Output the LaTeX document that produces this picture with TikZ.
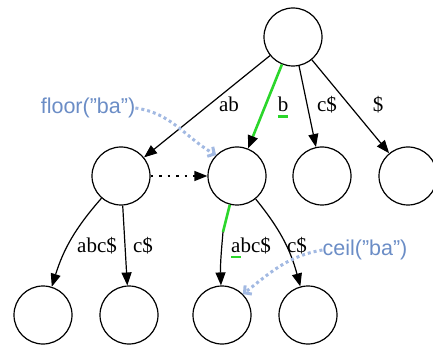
\documentclass[tikz,border=0pt]{standalone}
\usepackage{fontspec}
\setmainfont{Liberation Serif}
\newfontfamily\notefont{Liberation Sans}
\usetikzlibrary{arrows.meta}
\definecolor{tgreen}{HTML}{2BD62B}
\definecolor{tblue}{HTML}{6B8DC6}
\definecolor{tbluesoft}{HTML}{A2B9E2}
\newcommand{\greenul}[1]{\setbox0\hbox{#1}\rlap{\textcolor{tgreen}{\rule[-6pt]{\wd0}{2.5pt}}}#1}
\tikzset{
  >={Triangle[length=13pt,width=10pt]},
  vertex/.style={circle, draw, line width=1.2pt, minimum size=58pt, inner sep=0pt},
  edge/.style={->, line width=1.2pt},
  hit/.style={line width=2.6pt, draw=tgreen},
  lab/.style={font=\fontsize{21}{24}\selectfont, anchor=base, inner sep=0pt},
  note/.style={font=\notefont\fontsize{21.5}{24}\selectfont, text=tblue, inner sep=0pt},
  pointer/.style={-{Straight Barb[length=5pt,width=11pt]}, line width=3pt,
    draw=tbluesoft, dash pattern=on 3pt off 3pt}
}
\begin{document}
\begin{tikzpicture}[x=1pt,y=-1pt]
  \useasboundingbox (0,0) rectangle (433,347);
  % trie nodes
  \node[vertex] (root) at (293,37) {};
  \node[vertex] (na) at (121,176) {};
  \node[vertex] (nb) at (237,176) {};
  \node[vertex] (nc) at (322,176) {};
  \node[vertex] (nd) at (408,176) {};
  \node[vertex] (la) at (43,315) {};
  \node[vertex] (lb) at (129,315) {};
  \node[vertex] (lc) at (222,315) {};
  \node[vertex] (ld) at (308,315) {};
  % first level
  \draw[edge] (root) -- (na);
  \draw[edge,hit,-{Triangle[length=13pt,width=10pt,black]}] (root) -- (nb);
  \draw[edge] (root) -- (nc);
  \draw[edge] (root) -- (nd);
  \node[lab] (tab) at (229,112) {ab};
  \node[lab] (tb) at (283,112) {\greenul{b}};
  \node[lab] (tc) at (327,112) {c\$};
  \node[lab] (td) at (378,112) {\$};
  \draw[edge,dash pattern=on 2.5pt off 6pt] (na) -- (nb);
  % second level
  \draw[edge] (na) to[bend right=12] (la);
  \draw[edge] (na) -- (lb);
  \coordinate (bmid) at (223,232);
  \draw[hit] (nb) -- (bmid);
  \draw[edge] (bmid) to[out=-95,in=92] (lc);
  \draw[edge] (nb) to[bend left=12] (ld);
  \node[lab] (tla) at (97,252) {abc\$};
  \node[lab] (tlb) at (143,252) {c\$};
  \node[lab] (tlc) at (251,252) {\greenul{a}bc\$};
  \node[lab] (tld) at (297,252) {c\$};
  % floor / ceil
  \node[note] (floor) at (88,108) {floor(”ba”)};
  \node[note] (ceil) at (365,250) {ceil(”ba”)};
  \draw[pointer] (floor.east) to[out=-8,in=150] (nb.north west);
  \draw[pointer] (ceil.west) to[out=190,in=38] (lc.north east);
\end{tikzpicture}
\end{document}
